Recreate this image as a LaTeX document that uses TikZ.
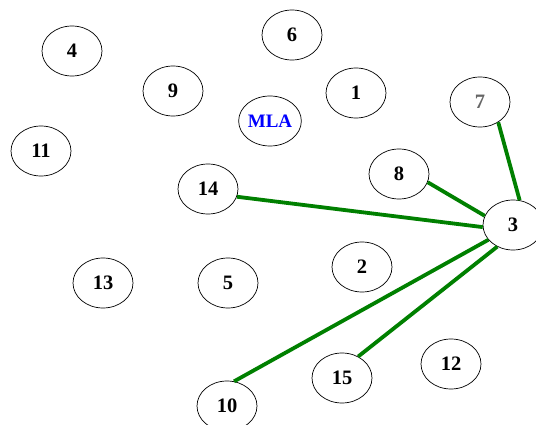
\documentclass[tikz,border=0pt]{standalone}
\usepackage{fontspec}
\setmainfont{Liberation Serif}
\usetikzlibrary{shapes.geometric}
\begin{document}
\begin{tikzpicture}[x=1pt,y=-1pt,
  vnode/.style={draw=black, line width=0.7pt, ellipse, minimum width=60pt, minimum height=50pt, inner sep=0pt, font=\fontsize{20.5}{22}\selectfont\bfseries},
  gedge/.style={draw=green!50!black, line width=3.8pt}]
\useasboundingbox (0,0) rectangle (536,425);
\fill[white] (0,0) rectangle (536,425);
\node[vnode] (n4) at (72,51) {4};
\node[vnode] (n6) at (292,35) {6};
\node[vnode] (n9) at (173,91) {9};
\node[vnode] (n1) at (356,93) {1};
\node[vnode, text=black!60] (n7) at (480,102) {7};
\node[vnode, text=blue, font=\fontsize{19}{21}\selectfont\bfseries] (mla) at (270,121) {MLA};
\node[vnode] (n11) at (41,151) {11};
\node[vnode] (n14) at (208,189) {14};
\node[vnode] (n8) at (399,174) {8};
\node[vnode] (n3) at (513,225) {3};
\node[vnode] (n13) at (103,283) {13};
\node[vnode] (n5) at (228,283) {5};
\node[vnode] (n2) at (362,267) {2};
\node[vnode] (n15) at (342,378) {15};
\node[vnode] (n12) at (451,364) {12};
\node[vnode] (n10) at (227,406) {10};
\draw[gedge] (n7.-48) -- (n3.75);
\draw[gedge] (n8.-16) -- (n3.162);
\draw[gedge] (n14.-15) -- (n3.-176);
\draw[gedge] (n10.74) -- (n3.-149);
\draw[gedge] (n15.53) -- (n3.-126);
\end{tikzpicture}
\end{document}
